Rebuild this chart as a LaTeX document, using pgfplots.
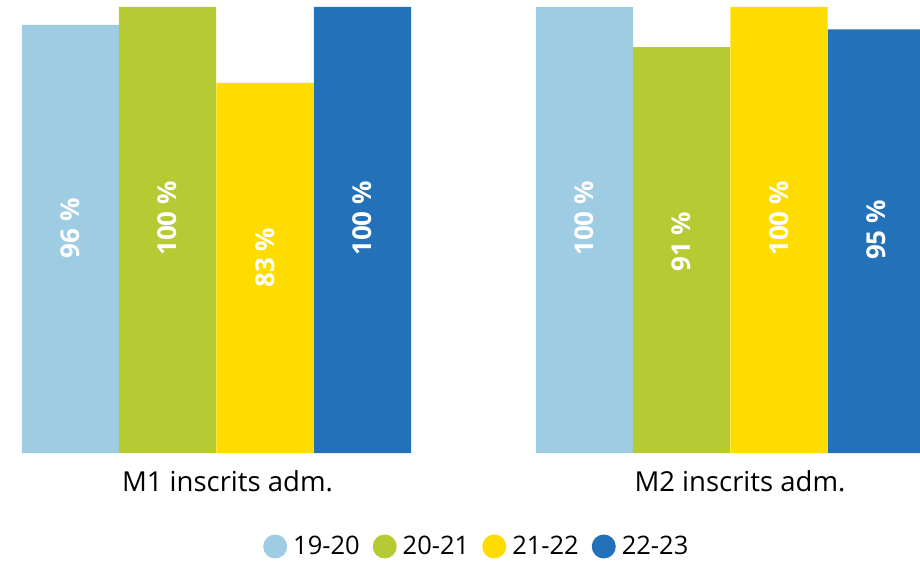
\documentclass[border=0pt]{standalone}
\usepackage{fontspec}
\setmainfont{Open Sans}
\usepackage{pgfplots}
\pgfplotsset{compat=1.18}

\definecolor{c1920}{HTML}{9ECCE3}
\definecolor{c2021}{HTML}{B5CA33}
\definecolor{c2122}{HTML}{FFDC00}
\definecolor{c2223}{HTML}{2371B9}

\newcommand{\lab}{\fontsize{27.5}{33}\selectfont}
\newcommand{\leg}{\fontsize{25.5}{31}\selectfont}
\newcommand{\val}{\fontsize{26}{31}\selectfont\bfseries}

\begin{document}
\begin{tikzpicture}
\begin{axis}[
  scale only axis,
  width=920pt, height=565pt,
  xmin=0, xmax=920,
  ymin=-25.11, ymax=101.57,
  hide axis,
  clip=true,
  legend columns=4,
  legend image code/.code={\fill[#1] (0pt,0pt) circle (12pt);},
  legend style={
    at={(axis cs:263,-20.96)}, anchor=west,
    draw=none, fill=none, font=\leg,
    inner sep=0pt, column sep=4pt,
    /tikz/every even column/.append style={column sep=11pt},
  },
]
\coordinate (bl) at (rel axis cs:0,0);
\coordinate (tr) at (rel axis cs:1,1);

% bars: M1 group, then M2 group
\addplot[ybar, bar width=97.25, bar shift=0pt, fill=c1920, draw=none]
  coordinates {(70.5,96) (584.5,100)};
\addlegendentry{19-20}
\addplot[ybar, bar width=97.25, bar shift=0pt, fill=c2021, draw=none]
  coordinates {(167.5,100) (681.5,91)};
\addlegendentry{20-21}
\addplot[ybar, bar width=97.25, bar shift=0pt, fill=c2122, draw=none]
  coordinates {(265,83) (779,100)};
\addlegendentry{21-22}
\addplot[ybar, bar width=97.25, bar shift=0pt, fill=c2223, draw=none]
  coordinates {(362.5,100) (876.5,95)};
\addlegendentry{22-23}

% value labels inside the bars
\addplot[draw=none, mark=none, forget plot,
  nodes near coords, point meta=explicit symbolic,
  every node near coord/.append style={anchor=center, rotate=90,
    text=white, font=\val, inner sep=0pt}]
  coordinates {
    (70.5,50.4) [96 \%]
    (167.5,52.6) [100 \%]
    (265,43.8) [83 \%]
    (362.5,52.6) [100 \%]
    (584.5,52.6) [100 \%]
    (681.5,47.4) [91 \%]
    (779,52.6) [100 \%]
    (876.5,50.0) [95 \%]
  };

\node[anchor=base, font=\lab, inner sep=0pt] at (axis cs:227.5,-8.52) {M1 inscrits adm.};
\node[anchor=base, font=\lab, inner sep=0pt] at (axis cs:740,-8.52) {M2 inscrits adm.};
\end{axis}
\pgfresetboundingbox
\path[use as bounding box] (bl) rectangle (tr);
\end{tikzpicture}
\end{document}
